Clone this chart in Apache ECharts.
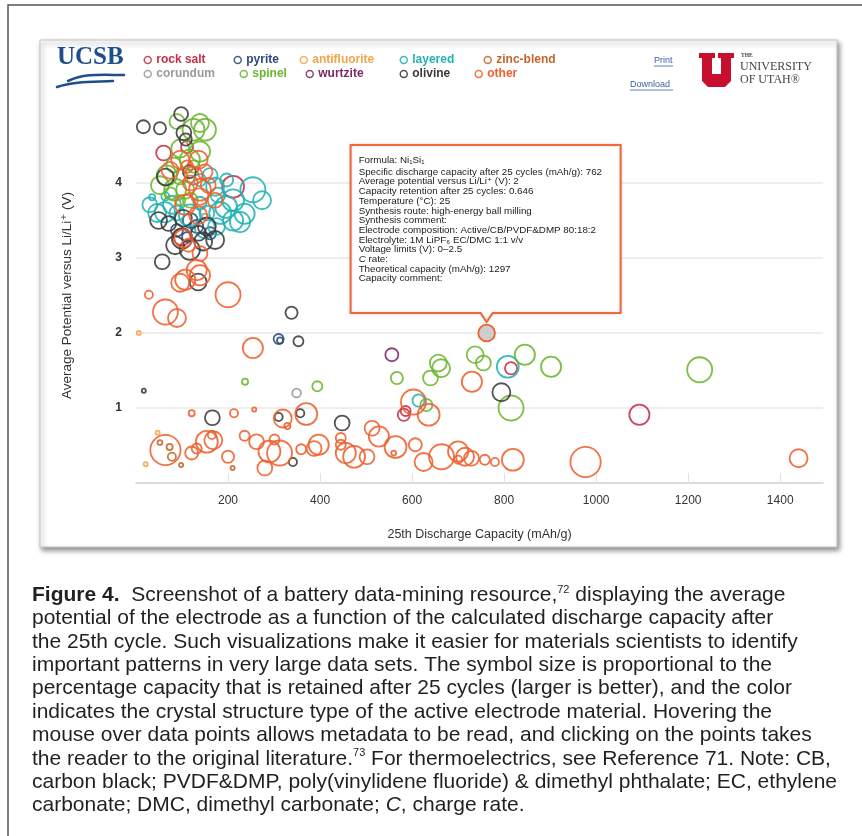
<!DOCTYPE html>
<html><head><meta charset="utf-8">
<script src="https://cdn.jsdelivr.net/npm/echarts@6/dist/echarts.min.js"></script>
<style>html,body{margin:0;padding:0;background:#fff}#c{width:862px;height:836px}</style>
</head><body><div id="c"></div>
<script>
// ---- data: [25th discharge capacity (mAh/g), average potential (V), capacity retention] ----
const structureTypes = ['rock salt','pyrite','antifluorite','layered','zinc-blend','corundum','spinel','wurtzite','olivine','other'];
const structureColors = ['#c62f45','#2a4b7c','#f4a54a','#22b3b3','#c4662c','#9a9a9a','#6cb52f','#7d2a66','#3a3a3a','#ef5f2c'];

const rockSalt = [[60,4.40,0.61],[111,4.48,0.55],[211,3.95,0.74],[100,3.28,0.65],[582,0.91,0.55],[586,0.96,0.5],[815,1.53,0.55],[1094,0.91,0.71]];
const pyrite = [[118,3.50,0.61],[132,3.42,0.57],[89,3.37,0.55],[161,3.33,0.55],[111,3.28,0.5],[310,1.92,0.5],[313,1.90,0.39]];
const antifluorite = [[6,2.00,0.32],[47,0.67,0.32],[21,0.25,0.32]];
const layered = [[254,3.91,0.79],[211,3.77,0.74],[183,3.60,0.74],[211,3.50,0.71],[46,3.60,0.67],[78,3.71,0.67],[35,3.81,0.39],[64,3.82,0.45],[161,4.10,0.61],[172,3.95,0.67],[197,4.04,0.57],[175,3.42,0.65],[89,3.60,0.61],[154,3.60,0.61],[139,3.73,0.57],[236,3.59,0.71],
 [196,3.68,0.74],[226,3.48,0.71],[150,3.40,0.71],[117,3.57,0.74],[63,3.61,0.71],[30,3.71,0.61],[274,3.77,0.67],[178,3.84,0.61],[139,4.04,0.55],
 [808,1.55,0.74],[614,1.10,0.55]];
const zincBlend = [[52,0.54,0.35],[73,0.48,0.39],[98,0.24,0.32],[210,0.20,0.32],[78,0.35,0.45]];
const corundum = [[349,1.20,0.47],[150,3.55,0.39]];
const spinel = [[125,4.71,0.74],[139,4.80,0.67],[89,4.82,0.61],[96,4.46,0.67],[139,4.42,0.71],[67,4.10,0.71],[82,4.24,0.61],[107,3.91,0.67],[118,3.77,0.61],[96,4.08,0.61],[75,3.86,0.55],[125,4.22,0.55],[96,3.77,0.5],
 [150,4.71,0.74],[117,4.31,0.71],[85,3.91,0.74],[52,3.97,0.67],
 [237,1.35,0.39],[394,1.29,0.5],[567,1.40,0.55],[640,1.40,0.61],[657,1.60,0.65],[663,1.53,0.67],[737,1.71,0.65],[755,1.60,0.61],[845,1.71,0.71],[902,1.55,0.71],[815,1.00,0.79],[631,1.04,0.55],[1225,1.51,0.79]];
const wurtzite = [[556,1.71,0.57]];
const olivine = [[16,4.75,0.57],[52,4.73,0.55],[98,4.92,0.59],[104,4.67,0.61],[108,4.58,0.55],[64,4.08,0.65],[116,4.15,0.57],[49,3.50,0.65],[71,3.46,0.61],[100,3.26,0.71],[146,3.22,0.67],[154,3.42,0.67],[57,2.95,0.61],[103,3.53,0.65],[136,3.33,0.61],
 [172,3.24,0.67],[85,3.17,0.67],[117,3.11,0.71],
 [135,2.68,0.65],[338,2.27,0.55],[353,1.89,0.5],[17,1.23,0.32],[166,0.87,0.61],[310,0.88,0.45],[357,0.93,0.45],[448,0.80,0.61],[794,1.21,0.67],[341,0.28,0.45]];
const other = [[96,4.31,0.67],[136,4.31,0.67],[125,4.10,0.67],[139,3.91,0.74],[139,3.82,0.65],[118,4.00,0.61],[157,3.97,0.61],[111,4.22,0.55],[103,3.26,0.67],[114,3.17,0.57],[139,3.06,0.61],[132,2.84,0.71],[139,2.77,0.71],[107,2.71,0.71],[96,2.67,0.67],
 [74,4.17,0.65],[150,4.15,0.61],[172,3.77,0.61],[107,3.71,0.71],[135,3.57,0.67],
 [28,2.51,0.45],[64,2.28,0.79],[89,2.20,0.67],[200,2.51,0.79],[254,1.80,0.71],[762,2.00,0.646],
 [730,1.35,0.71],[603,1.08,0.79],[636,0.91,0.74],
 [121,0.93,0.39],[213,0.93,0.45],[257,0.98,0.32],[370,0.92,0.74],[319,0.86,0.67],[329,0.76,0.39],
 [64,0.44,0.87],[121,0.40,0.57],[132,0.46,0.5],[154,0.55,0.74],[168,0.57,0.67],[165,0.64,0.45],[200,0.35,0.55],[236,0.63,0.5],[262,0.55,0.61],[280,0.20,0.61],[290,0.42,0.74],[312,0.40,0.79],[301,0.58,0.5],[359,0.45,0.5],[387,0.46,0.61],[397,0.51,0.71],[445,0.51,0.5],[445,0.60,0.5],
 [513,0.73,0.61],[528,0.62,0.71],[564,0.48,0.74],[560,0.40,0.35],[607,0.51,0.57],[456,0.40,0.71],[474,0.35,0.74],[502,0.35,0.61],[625,0.28,0.67],[664,0.35,0.79],[700,0.42,0.71],[715,0.35,0.67],[729,0.33,0.61],[700,0.31,0.45],[758,0.31,0.5],[780,0.28,0.45],[819,0.31,0.74],[977,0.28,0.87],[1440,0.33,0.67]];
const seriesValues = [rockSalt, pyrite, antifluorite, layered, zincBlend, corundum, spinel, wurtzite, olivine, other];

const hoverPoint = [762, 2.0];   // the data point whose metadata box is open
const tipLines = [
 'Formula: Ni₁Si₁',
 'Specific discharge capacity after 25 cycles (mAh/g): 762',
 'Average potential versus Li/Li⁺ (V): 2',
 'Capacity retention after 25 cycles: 0.646',
 'Temperature (°C): 25',
 'Synthesis route: high-energy ball milling',
 'Synthesis comment:',
 'Electrode composition: Active/CB/PVDF&DMP 80:18:2',
 'Electrolyte: 1M LiPF₆ EC/DMC 1:1 v/v',
 'Voltage limits (V): 0–2.5',
 '{i|C} rate:',
 'Theoretical capacity (mAh/g): 1297',
 'Capacity comment:'
];
const captionLines = [
 '{b|Figure 4.}  Screenshot of a battery data-mining resource,{sup|72} displaying the average',
 'potential of the electrode as a function of the calculated discharge capacity after',
 'the 25th cycle. Such visualizations make it easier for materials scientists to identify',
 'important patterns in very large data sets. The symbol size is proportional to the',
 'percentage capacity that is retained after 25 cycles (larger is better), and the color',
 'indicates the crystal structure type of the active electrode material. Hovering the',
 'mouse over data points allows metadata to be read, and clicking on the points takes',
 'the reader to the original literature.{sup|73} For thermoelectrics, see Reference 71. Note: CB,',
 'carbon black; PVDF&DMP, poly(vinylidene fluoride) & dimethyl phthalate; EC, ethylene',
 'carbonate; DMC, dimethyl carbonate; {i|C}, charge rate.'
];

// ---- layout ----
const FONT = 'Liberation Sans, Arial, DejaVu Sans, sans-serif';
const CAP = 21;
const legendPos = [[147,61],[237,61],[303,61],[403,61],[487,61],[147,75],[243,75],[309,75],[403,75],[478,75]];

const chart = echarts.init(document.getElementById('c'), null, {renderer:'canvas'});

const series = structureTypes.map((name, i) => ({
  type: 'scatter', name, clip: false,
  data: seriesValues[i].map(d => (name === 'other' && d[0] === hoverPoint[0] && d[1] === hoverPoint[1])
      ? {value: d, itemStyle: {color: '#cdcdcd', opacity: 1}} : d),
  symbol: 'circle',
  symbolSize: v => 40 * v[2] * v[2],
  itemStyle: {color: 'rgba(255,255,255,0)', borderColor: structureColors[i], borderWidth: 1.8, opacity: 0.88},
  emphasis: {disabled: true}
}));

const legends = structureTypes.map((name, i) => ({
  data: [name], left: legendPos[i][0] - 3.5, top: legendPos[i][1] - 7,
  itemWidth: 7, itemHeight: 7, itemGap: 0, padding: 0, icon: 'circle', selectedMode: false,
  itemStyle: {color: 'rgba(0,0,0,0)', borderColor: structureColors[i], borderWidth: 1.5},
  textStyle: {color: structureColors[i], fontWeight: 'bold', fontSize: 12, fontFamily: FONT}
}));

chart.setOption({
  animation: false,
  backgroundColor: '#fff',
  grid: {left: 136, right: 39, top: 108, bottom: 353},
  legend: legends,
  xAxis: {
    type: 'value', min: 0, max: 1493, interval: 200, offset: 5,
    axisLine: {show: true, lineStyle: {color: '#cfcfcf', width: 1.5}},
    axisTick: {show: true, inside: true, length: 10, lineStyle: {color: '#e2e2e2'}},
    axisLabel: {showMinLabel: false, showMaxLabel: false, margin: 7, color: '#333', fontSize: 12, fontFamily: FONT,
      formatter: v => String(v)},
    splitLine: {show: false},
    name: '25th Discharge Capacity (mAh/g)', nameLocation: 'middle', nameGap: 40,
    nameTextStyle: {fontSize: 12.5, color: '#333', fontFamily: FONT}
  },
  yAxis: {
    type: 'value', min: 0, max: 5, interval: 1,
    axisLine: {show: false}, axisTick: {show: false},
    axisLabel: {showMinLabel: false, showMaxLabel: false, margin: 14, color: '#333', fontSize: 12, fontWeight: 'bold', fontFamily: FONT},
    splitLine: {show: true, showMinLine: false, showMaxLine: false, lineStyle: {color: '#e8e8e8', width: 1.5}},
    name: 'Average Potential versus Li/Li⁺ (V)', nameLocation: 'middle', nameGap: 62,
    nameTextStyle: {fontSize: 13.5, color: '#333', fontFamily: FONT}
  },
  series
});

// ---- decorations ----
const p = chart.convertToPixel({xAxisIndex: 0, yAxisIndex: 0}, hoverPoint);
const px = p[0], py = p[1];
const L = px - 136, R = px + 134, T = py - 188, B = py - 20;

const graphics = [
  {type: 'rect', silent: true, z: -100, shape: {x: 8, y: 5, width: 900, height: 900},
   style: {fill: 'none', stroke: '#555', lineWidth: 1.5}},
  {type: 'rect', silent: true, z: -90, shape: {x: 40, y: 40, width: 797, height: 507},
   style: {fill: '#fff', stroke: '#c4c4c4', lineWidth: 1, shadowBlur: 5, shadowOffsetX: 2, shadowOffsetY: 3, shadowColor: 'rgba(0,0,0,0.45)'}},
  // UCSB logo
  {type: 'text', silent: true, z: 10, x: 57, y: 45,
   style: {text: 'UCSB', fontFamily: 'Liberation Serif, DejaVu Serif, serif', fontSize: 25, fontWeight: 'bold', fill: '#1f4e8c'}},
  {type: 'bezierCurve', silent: true, z: 10, shape: {x1: 68, y1: 81, cpx1: 85, cpy1: 73, cpx2: 102, cpy2: 75, x2: 124, y2: 75},
   style: {fill: 'none', stroke: '#1f4e8c', lineWidth: 2.5, lineCap: 'round'}},
  {type: 'bezierCurve', silent: true, z: 10, shape: {x1: 57, y1: 87, cpx1: 74, cpy1: 81, cpx2: 94, cpy2: 82, x2: 113, y2: 81},
   style: {fill: 'none', stroke: '#1f4e8c', lineWidth: 2.5, lineCap: 'round'}},
  // Print / Download
  {type: 'text', silent: true, z: 10, x: 654, y: 56, style: {text: 'Print', fontFamily: FONT, fontSize: 9, fill: '#3a5fa8'}},
  {type: 'line', silent: true, z: 10, shape: {x1: 654, y1: 66, x2: 673, y2: 66}, style: {stroke: '#3a5fa8', lineWidth: 0.8}},
  {type: 'text', silent: true, z: 10, x: 630, y: 80, style: {text: 'Download', fontFamily: FONT, fontSize: 9, fill: '#3a5fa8'}},
  {type: 'line', silent: true, z: 10, shape: {x1: 630, y1: 90, x2: 673, y2: 90}, style: {stroke: '#3a5fa8', lineWidth: 0.8}},
  // University of Utah logo
  {type: 'polygon', silent: true, z: 10, shape: {points: [[699,53],[715,53],[715,58],[712,58],[712,74],[721,74],[721,58],[718,58],[718,53],[734,53],[734,58],[731,58],[731,81],[725,87],[708,87],[702,81],[702,58],[699,58]]},
   style: {fill: '#c8102e'}},
  {type: 'text', silent: true, z: 10, x: 741, y: 53, style: {text: 'THE', fontFamily: 'Liberation Serif, serif', fontSize: 5.5, fontWeight: 'bold', fill: '#444'}},
  {type: 'text', silent: true, z: 10, x: 740, y: 61, style: {text: 'UNIVERSITY', fontFamily: 'Liberation Serif, DejaVu Serif, serif', fontSize: 12, fill: '#444'}},
  {type: 'text', silent: true, z: 10, x: 740, y: 74, style: {text: 'OF UTAH®', fontFamily: 'Liberation Serif, DejaVu Serif, serif', fontSize: 12, fill: '#444'}},
  // metadata box for the hovered point
  {type: 'polygon', silent: true, z: 100,
   shape: {points: [[L,T],[R,T],[R,B],[px+6,B],[px,B+9],[px-6,B],[L,B]]},
   style: {fill: '#fff', stroke: '#ec6a3c', lineWidth: 2, shadowBlur: 3, shadowColor: 'rgba(0,0,0,0.15)'}}
];
tipLines.forEach((t, i) => {
  const y = py - 173 + (i === 0 ? 0 : 12 + (i - 1) * 9.7);
  graphics.push({type: 'text', silent: true, z: 101, x: L + 8, y,
    style: {text: t, fontFamily: FONT, fontSize: 9.8, fill: '#222', verticalAlign: 'middle',
      rich: {i: {fontStyle: 'italic', fontFamily: FONT, fontSize: 9.8, fill: '#222'}}}});
});
captionLines.forEach((t, i) => {
  graphics.push({type: 'text', silent: true, z: 10, x: 32, y: 595 + i * 23.4,
    style: {text: t, fontFamily: FONT, fontSize: CAP, fill: '#231f20', verticalAlign: 'middle', lineHeight: 22,
      rich: {
        b: {fontWeight: 'bold', fontFamily: FONT, fontSize: CAP, fill: '#231f20'},
        i: {fontStyle: 'italic', fontFamily: FONT, fontSize: CAP, fill: '#231f20'},
        sup: {fontFamily: FONT, fontSize: 11, fill: '#231f20', verticalAlign: 'top', lineHeight: 22}
      }}});
});
chart.setOption({graphic: graphics});
</script></body></html>
